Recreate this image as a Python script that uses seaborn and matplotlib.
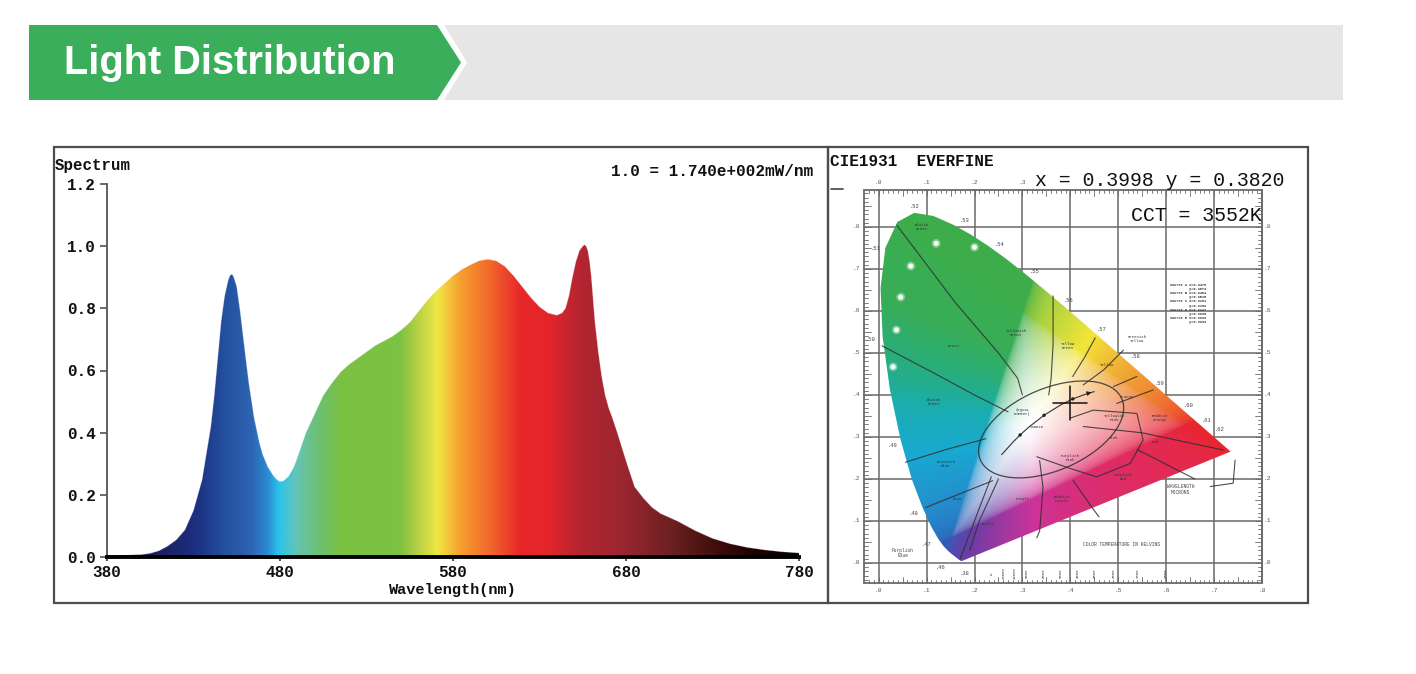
import numpy as np
import pandas as pd
import matplotlib
matplotlib.use("Agg")
import matplotlib.pyplot as plt
import seaborn as sns
from matplotlib.patches import Polygon, Rectangle, Ellipse
from matplotlib.colors import LinearSegmentedColormap, rgb_to_hsv

sns.set_theme(style="white")
plt.rcParams["font.family"] = ["Liberation Mono", "DejaVu Sans Mono"]

# ---------------- data ----------------
wavelength_nm = [380, 390, 400, 405, 410, 415, 420, 425, 430, 435, 440, 442, 444, 446, 448,
                 450, 451, 452, 453, 455, 457, 460, 462, 465, 468, 470, 473, 476, 478, 480,
                 482, 485, 488, 490, 495, 500, 505, 510, 515, 520, 525, 530, 535, 540, 545,
                 550, 555, 560, 565, 570, 575, 580, 585, 590, 595, 600, 605, 610, 615, 620,
                 625, 630, 635, 640, 643, 645, 647, 649, 651, 653, 655, 656, 657, 658, 659,
                 660, 661, 662, 664, 666, 668, 670, 672, 675, 680, 685, 690, 695, 700, 710,
                 720, 730, 740, 750, 760, 770, 780]
relative_intensity = [0.005, 0.006, 0.008, 0.012, 0.02, 0.035, 0.055, 0.087, 0.15, 0.25,
                      0.42, 0.52, 0.64, 0.76, 0.84, 0.89, 0.905, 0.91, 0.905, 0.87, 0.79,
                      0.65, 0.56, 0.45, 0.37, 0.33, 0.29, 0.263, 0.25, 0.243, 0.245, 0.26,
                      0.29, 0.32, 0.40, 0.46, 0.52, 0.56, 0.595, 0.62, 0.64, 0.66, 0.68,
                      0.695, 0.71, 0.73, 0.755, 0.79, 0.825, 0.855, 0.88, 0.905, 0.925,
                      0.94, 0.953, 0.958, 0.953, 0.935, 0.905, 0.87, 0.835, 0.805, 0.785,
                      0.778, 0.785, 0.80, 0.84, 0.90, 0.95, 0.985, 1.0, 1.005, 1.0, 0.985,
                      0.95, 0.90, 0.83, 0.76, 0.66, 0.58, 0.52, 0.48, 0.45, 0.40, 0.31,
                      0.226, 0.19, 0.16, 0.14, 0.115, 0.085, 0.06, 0.043, 0.031, 0.023,
                      0.017, 0.013]
x_ticks = [380, 480, 580, 680, 780]
y_ticks = [0.0, 0.2, 0.4, 0.6, 0.8, 1.0, 1.2]

spectrum_color_nm = [380, 410, 430, 448, 463, 472, 479, 489, 503, 515, 549, 556, 571, 584,
                     601, 619, 636, 653, 679, 708, 737, 757, 780]
spectrum_colors = ["#101030", "#1a2060", "#1c2e80", "#2450a0", "#2d64b2", "#2b8ad2",
                   "#2ac4ee", "#66c4b6", "#6cc070", "#7ac143", "#7cc242", "#a4ca46",
                   "#efe842", "#f7a030", "#f16a2c", "#e8272a", "#e3252b", "#b52530",
                   "#9b2631", "#6a2020", "#3a0a0a", "#1a0202", "#050000"]

# CIE 1931 spectral locus (chromaticity x, y)
locus_x = [0.1741, 0.1738, 0.1733, 0.1726, 0.1714, 0.1689, 0.1644, 0.1566, 0.1510, 0.1440,
           0.1355, 0.1241, 0.1096, 0.0913, 0.0687, 0.0454, 0.0235, 0.0082, 0.0039, 0.0139,
           0.0389, 0.0743, 0.1142, 0.1547, 0.1929, 0.2296, 0.2658, 0.3016, 0.3373, 0.3731,
           0.4087, 0.4441, 0.4788, 0.5125, 0.5448, 0.5752, 0.6029, 0.6270, 0.6482, 0.6658,
           0.6801, 0.6915, 0.7079, 0.7190, 0.7260, 0.7300, 0.7334, 0.7347]
locus_y = [0.0050, 0.0049, 0.0048, 0.0048, 0.0051, 0.0069, 0.0109, 0.0177, 0.0227, 0.0297,
           0.0399, 0.0578, 0.0868, 0.1327, 0.2007, 0.2950, 0.4127, 0.5384, 0.6548, 0.7502,
           0.8120, 0.8338, 0.8262, 0.8059, 0.7816, 0.7543, 0.7243, 0.6923, 0.6589, 0.6245,
           0.5896, 0.5547, 0.5202, 0.4866, 0.4544, 0.4242, 0.3965, 0.3725, 0.3514, 0.3340,
           0.3197, 0.3083, 0.2920, 0.2809, 0.2740, 0.2700, 0.2666, 0.2653]

# hue -> printed colour of the chart
hue_deg = [0, 30, 60, 90, 120, 150, 162, 175, 190, 210, 240, 270, 300, 330, 360]
hue_r = [0.91, 0.94, 0.95, 0.66, 0.24, 0.22, 0.16, 0.10, 0.10, 0.14, 0.20, 0.42, 0.80, 0.88, 0.91]
hue_g = [0.15, 0.56, 0.90, 0.82, 0.68, 0.68, 0.68, 0.68, 0.66, 0.55, 0.36, 0.24, 0.20, 0.17, 0.15]
hue_b = [0.19, 0.20, 0.22, 0.25, 0.30, 0.34, 0.48, 0.70, 0.82, 0.80, 0.72, 0.65, 0.60, 0.38, 0.19]

planck_x = [0.2568, 0.2807, 0.2952, 0.3135, 0.3451, 0.3805, 0.4053, 0.4369, 0.4500]
planck_y = [0.2581, 0.2883, 0.3048, 0.3237, 0.3516, 0.3768, 0.3907, 0.4041, 0.4080]

measured_x = 0.3998
measured_y = 0.3820
cct_k = 3552

locus_labels = [".52", ".53", ".51", ".54", ".55", ".56", ".57", ".58", ".59", ".60", ".61",
                ".62", ".50", ".49", ".48", ".47", ".46", ".38"]
locus_label_x = [0.075, 0.18, -0.006, 0.252, 0.326, 0.396, 0.466, 0.536, 0.587, 0.646, 0.685,
                 0.712, -0.016, 0.028, 0.072, 0.10, 0.13, 0.18]
locus_label_y = [0.848, 0.815, 0.75, 0.758, 0.693, 0.624, 0.556, 0.492, 0.428, 0.374, 0.339,
                 0.317, 0.531, 0.28, 0.118, 0.044, -0.01, -0.025]

region_names = ["Green", "Yellowish\nGreen", "Yellow\nGreen", "Greenish\nYellow", "Yellow",
                "Orange", "Reddish\nOrange", "Red", "Pink", "Yellowish\nPink", "Purplish\nPink",
                "Purplish\nRed", "Reddish\nPurple", "Purple", "Violet", "Blue", "Greenish\nBlue",
                "Bluish\nGreen", "Bluish\nGreen", "(EQUAL\nENERGY)", "CANDLE"]
region_x = [0.157, 0.287, 0.395, 0.539, 0.476, 0.518, 0.587, 0.577, 0.49, 0.493, 0.40, 0.51,
            0.382, 0.301, 0.228, 0.165, 0.14, 0.115, 0.09, 0.30, 0.33]
region_y = [0.517, 0.548, 0.517, 0.533, 0.471, 0.396, 0.345, 0.289, 0.297, 0.345, 0.25, 0.205,
            0.152, 0.152, 0.094, 0.152, 0.236, 0.383, 0.80, 0.36, 0.325]

boundary_lines = [
    ([0.038, 0.16, 0.25, 0.29, 0.30], [0.804, 0.62, 0.50, 0.44, 0.40]),
    ([0.364, 0.364, 0.36, 0.355], [0.636, 0.52, 0.44, 0.40]),
    ([0.452, 0.43, 0.405], [0.536, 0.49, 0.444]),
    ([0.511, 0.47, 0.427], [0.507, 0.46, 0.424]),
    ([0.539, 0.49], [0.444, 0.42]),
    ([0.573, 0.497], [0.412, 0.38]),
    ([0.427, 0.55, 0.719], [0.325, 0.31, 0.269]),
    ([0.54, 0.66], [0.27, 0.20]),
    ([0.406, 0.448, 0.46], [0.196, 0.128, 0.11]),
    ([0.336, 0.343, 0.336, 0.33], [0.244, 0.18, 0.076, 0.06]),
    ([0.25, 0.21, 0.19], [0.20, 0.10, 0.03]),
    ([0.235, 0.20, 0.17], [0.205, 0.10, 0.01]),
    ([0.098, 0.17, 0.238], [0.132, 0.165, 0.196]),
    ([0.056, 0.14, 0.224], [0.24, 0.27, 0.296]),
    ([0.007, 0.119, 0.20, 0.27], [0.517, 0.45, 0.40, 0.36]),
    ([0.33, 0.40, 0.455, 0.525, 0.552, 0.539, 0.448, 0.40],
     [0.253, 0.225, 0.205, 0.237, 0.293, 0.356, 0.364, 0.345]),
    ([0.692, 0.74, 0.744], [0.182, 0.19, 0.245]),
]

white_dot_x = [0.12, 0.20, 0.067, 0.046, 0.037, 0.03]
white_dot_y = [0.761, 0.752, 0.707, 0.633, 0.555, 0.467]

kelvin_labels = ["\u221e", "20000", "10000", "8000", "6000", "5000", "4000", "3500",
                 "3000", "2500", "2000"]
kelvin_x = [0.235, 0.26, 0.285, 0.31, 0.345, 0.38, 0.415, 0.45, 0.49, 0.54, 0.60]

source_text = ("Source A x=0.4476\n         y=0.4074\nSource B x=0.3484\n         y=0.3516\n"
               "Source C x=0.3101\n         y=0.3162\nSource D x=0.3127\n         y=0.3290\n"
               "Source E x=0.3333\n         y=0.3333")

# ---------------- figure ----------------
W, H = 1416, 674
fig = plt.figure(figsize=(W / 100, H / 100), dpi=100)
fig.patch.set_facecolor("white")


def fx(px):
    return px / W


def fy(py):
    return 1 - py / H


bg = fig.add_axes([0, 0, 1, 1], zorder=0)
bg.set_xlim(0, W)
bg.set_ylim(H, 0)
bg.axis("off")

# banner
bg.add_patch(Polygon([(444, 25), (1343, 25), (1343, 100), (444, 100), (467, 62.5)],
                     closed=True, fc="#e6e6e6", ec="none"))
bg.add_patch(Polygon([(29, 25), (437, 25), (461, 62.5), (437, 100), (29, 100)],
                     closed=True, fc="#3bae5b", ec="none"))
bg.text(64, 63.5, "Light Distribution", color="white", fontsize=28.6, fontweight="bold",
        family=["Liberation Sans", "DejaVu Sans"], va="center", ha="left")

# panel frames
bg.add_patch(Rectangle((54, 147), 774, 456, fill=False, ec="#4d4d4d", lw=1.6))
bg.add_patch(Rectangle((828, 147), 480, 456, fill=False, ec="#4d4d4d", lw=1.6))
bg.plot([831, 843], [189, 189], color="#444444", lw=1.2)

# ---------------- spectrum ----------------
ax = fig.add_axes([fx(107), fy(557), (799 - 107) / W, (557 - 184) / H], zorder=2)
ax.set_facecolor("none")
df = pd.DataFrame({"wl": wavelength_nm, "val": relative_intensity})

pos = [(w - 380) / 400 for w in spectrum_color_nm]
cmap = LinearSegmentedColormap.from_list("spec", list(zip(pos, spectrum_colors)))
grad = np.linspace(0, 1, 1000)[None, :]
verts = [(380, 0)] + list(zip(df["wl"], df["val"])) + [(780, 0)]
clip = Polygon(verts, closed=True, fc="none", ec="none", transform=ax.transData)
ax.add_patch(clip)
im = ax.imshow(grad, extent=[380, 780, 0, 1.2], aspect="auto", cmap=cmap,
               origin="lower", interpolation="bilinear", zorder=1)
im.set_clip_path(clip)
sns.lineplot(data=df, x="wl", y="val", ax=ax, color="white", alpha=0.3, lw=0.6, zorder=2)

ax.set_xlim(380, 780)
ax.set_ylim(0, 1.2)
ax.set_xticks(x_ticks)
ax.set_xticklabels([str(t) for t in x_ticks])
ax.set_yticks(y_ticks)
ax.set_yticklabels([f"{t:.1f}" for t in y_ticks])
for lab in ax.get_xticklabels() + ax.get_yticklabels():
    lab.set_fontweight("bold")
    lab.set_fontsize(11.5)
    lab.set_color("#111111")
ax.tick_params(axis="y", direction="out", length=5, width=1.1, color="#444444", pad=3, left=True)
ax.tick_params(axis="x", direction="out", length=3, width=1.1, color="#222222", pad=3, bottom=True)
for s in ["top", "right"]:
    ax.spines[s].set_visible(False)
ax.spines["left"].set_color("#555555")
ax.spines["left"].set_linewidth(1.3)
ax.spines["bottom"].set_color("black")
ax.spines["bottom"].set_linewidth(2.8)
ax.set_xlabel("Wavelength(nm)", fontsize=11, fontweight="bold", labelpad=2, color="#111111")
ax.set_ylabel("")

fig.text(fx(55), fy(166), "Spectrum", fontsize=11.3, fontweight="bold", ha="left", va="center",
         color="#111111")
fig.text(fx(813), fy(171), "1.0 = 1.740e+002mW/nm", fontsize=11.5, fontweight="bold",
         ha="right", va="center", color="#111111")

# ---------------- CIE 1931 ----------------
PX0, PY0, SX, SY = 878.7, 563.0, 479.0, 420.0
L, R, T, B = 831, 1306, 150, 600
cax = fig.add_axes([fx(L), fy(B), (R - L) / W, (B - T) / H], zorder=2)
cax.set_xlim((L - PX0) / SX, (R - PX0) / SX)
cax.set_ylim((PY0 - B) / SY, (PY0 - T) / SY)
cax.axis("off")

# colour field of the horseshoe: chromaticity -> sRGB hue/saturation -> printed palette
gx = np.linspace(0.0, 0.75, 500)
gy = np.linspace(0.001, 0.85, 500)
XX, YY = np.meshgrid(gx, gy)
Xc = XX / YY
Yc = np.ones_like(XX)
Zc = (1 - XX - YY) / YY
M = np.array([[3.2406, -1.5372, -0.4986], [-0.9689, 1.8758, 0.0415], [0.0557, -0.2040, 1.0570]])
lin = np.einsum("ij,jkl->ikl", M, np.stack([Xc, Yc, Zc]))
lin = np.clip(lin, 0, None)
lin = lin / np.maximum(lin.max(axis=0, keepdims=True), 1e-9)
srgb = np.where(lin <= 0.0031308, 12.92 * lin, 1.055 * lin ** (1 / 2.4) - 0.055)
hsv = rgb_to_hsv(np.clip(np.moveaxis(srgb, 0, -1), 0, 1))
hh = hsv[..., 0] * 360
ss = np.clip(hsv[..., 1], 0, 1) ** 1.5
tr = np.interp(hh, hue_deg, hue_r)
tg = np.interp(hh, hue_deg, hue_g)
tb = np.interp(hh, hue_deg, hue_b)
rgb = np.stack([1 - ss * (1 - tr), 1 - ss * (1 - tg), 1 - ss * (1 - tb)], axis=-1)
rgb = np.clip(rgb, 0, 1)

loc_poly = Polygon(list(zip(locus_x, locus_y)), closed=True, fc="none", ec="none",
                   transform=cax.transData)
cax.add_patch(loc_poly)
cim = cax.imshow(rgb, extent=[0, 0.75, 0.001, 0.85], origin="lower", aspect="auto",
                 interpolation="bilinear", zorder=2)
cim.set_clip_path(loc_poly)

# grid frame with ruler ticks
fx0, fx1, fy0, fy1 = -0.03, 0.80, -0.048, 0.888
grid_col = "#6a6a6a"
cax.add_patch(Rectangle((fx0, fy0), fx1 - fx0, fy1 - fy0, fill=False, ec=grid_col, lw=1.3, zorder=1))
for v in np.arange(0.0, 0.81, 0.1):
    cax.plot([v, v], [fy0, fy1], color=grid_col, lw=1.1, zorder=1)
for v in np.arange(0.0, 0.89, 0.1):
    cax.plot([fx0, fx1], [v, v], color=grid_col, lw=1.1, zorder=1)
for v in np.arange(-0.02, 0.80, 0.01):
    ln = 0.014 if abs((v * 100) % 5) < 0.01 else 0.008
    cax.plot([v, v], [fy0, fy0 + ln], color=grid_col, lw=0.6, zorder=1)
    cax.plot([v, v], [fy1, fy1 - ln], color=grid_col, lw=0.6, zorder=1)
for v in np.arange(-0.04, 0.89, 0.01):
    ln = 0.014 if abs((v * 100) % 5) < 0.01 else 0.008
    cax.plot([fx0, fx0 + ln], [v, v], color=grid_col, lw=0.6, zorder=1)
    cax.plot([fx1, fx1 - ln], [v, v], color=grid_col, lw=0.6, zorder=1)
for i, v in enumerate(np.arange(0.0, 0.81, 0.1)):
    s = f".{i}"
    if i <= 3:
        cax.text(v, 0.905, s, fontsize=4.5, ha="center", va="center", color="#555555")
    cax.text(v, -0.066, s, fontsize=4.5, ha="center", va="center", color="#555555")
for i, v in enumerate(np.arange(0.0, 0.81, 0.1)):
    s = f".{i}"
    cax.text(-0.046, v, s, fontsize=4.5, ha="center", va="center", color="#555555")
    cax.text(0.812, v, s, fontsize=4.5, ha="center", va="center", color="#555555")

# region boundaries
for xs, ys in boundary_lines:
    cax.plot(xs, ys, color="#2e2e2e", lw=0.8, zorder=4, alpha=0.85)
cax.add_patch(Ellipse((0.36, 0.318), 0.33, 0.19, angle=29, fill=False, ec="#2e2e2e",
                      lw=0.9, zorder=4, alpha=0.85))

# Planckian locus
pdf = pd.DataFrame({"x": planck_x, "y": planck_y})
sns.lineplot(data=pdf, x="x", y="y", ax=cax, color="#333333", lw=0.8, sort=False, zorder=5)
cax.annotate("", xy=(planck_x[-1], planck_y[-1]), xytext=(planck_x[-2], planck_y[-2]),
             arrowprops=dict(arrowstyle="-|>", color="#222222", lw=0.8, mutation_scale=6), zorder=5)
sns.scatterplot(x=planck_x[2:7:2], y=planck_y[2:7:2], ax=cax, color="#222222", s=6,
                edgecolor="none", zorder=5)
cax.set_xlabel("")
cax.set_ylabel("")

# white dots
sns.scatterplot(x=white_dot_x, y=white_dot_y, ax=cax, color="white", s=40, alpha=0.35,
                edgecolor="none", zorder=5)
sns.scatterplot(x=white_dot_x, y=white_dot_y, ax=cax, color="white", s=14, alpha=0.95,
                edgecolor="none", zorder=6)

# small labels
for t, x, y in zip(locus_labels, locus_label_x, locus_label_y):
    cax.text(x, y, t, fontsize=4, color="#444444", ha="center", va="center", zorder=6)
for t, x, y in zip(region_names, region_x, region_y):
    cax.text(x, y, t, fontsize=2.8, color="#333333", ha="center", va="center", zorder=6,
             linespacing=0.9)
for t, x in zip(kelvin_labels, kelvin_x):
    cax.text(x, -0.025, t, fontsize=2.8, rotation=90, color="#444444", ha="center",
             va="center", zorder=6)
cax.text(0.506, 0.045, "COLOR TEMPERATURE IN KELVINS", fontsize=3.3, color="#444444",
         ha="center", va="center", zorder=6)
cax.text(0.63, 0.175, "WAVELENGTH\nMICRONS", fontsize=3.3, color="#444444", ha="center",
         va="center", zorder=6, linespacing=1.0)
cax.text(0.05, 0.024, "Purplish\nBlue", fontsize=3.3, color="#444444", ha="center",
         va="center", zorder=6, linespacing=0.9)
cax.text(0.608, 0.667, source_text, fontsize=2.6, color="#333333", ha="left", va="top",
         zorder=6, linespacing=1.05, fontweight="bold")

# crosshair at measured chromaticity
dxh, dyh = 17 / SX, 17 / SY
cax.plot([measured_x - dxh, measured_x + dxh], [measured_y, measured_y], color="#111111",
         lw=1.1, zorder=7)
cax.plot([measured_x, measured_x], [measured_y - dyh, measured_y + dyh], color="#111111",
         lw=1.1, zorder=7)

fig.text(fx(830), fy(161), "CIE1931  EVERFINE", fontsize=11.5, fontweight="bold", ha="left",
         va="center", color="#111111", zorder=10)
fig.text(fx(1035), fy(181), f"x = {measured_x:.4f} y = {measured_y:.4f}", fontsize=14.3,
         ha="left", va="center", color="#111111", zorder=10)
fig.text(fx(1262), fy(215), f"CCT = {cct_k}K", fontsize=14.3, ha="right", va="center",
         color="#111111", zorder=10)

fig.savefig("out.png", dpi=100, facecolor="white")
